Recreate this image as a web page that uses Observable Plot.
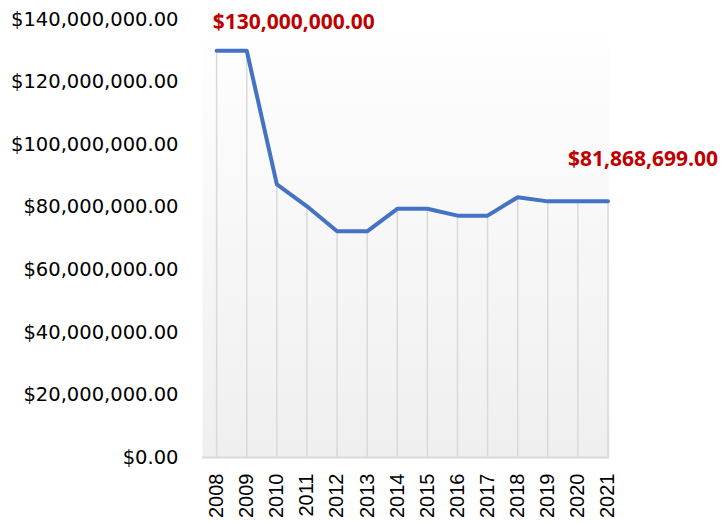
<!DOCTYPE html>
<html>
<head>
<meta charset="utf-8">
<script src="https://cdn.jsdelivr.net/npm/d3@7"></script>
<script src="https://cdn.jsdelivr.net/npm/@observablehq/plot@0.6"></script>
<style>
  html, body { margin: 0; padding: 0; background: #ffffff; }
  #chart svg { display: block; }
</style>
</head>
<body>
<div id="chart"></div>
<script>
const years = [2008, 2009, 2010, 2011, 2012, 2013, 2014, 2015, 2016, 2017, 2018, 2019, 2020, 2021];
const values = [130000000, 130000000, 87300000, 80300000, 72300000, 72300000, 79500000, 79500000, 77300000, 77300000, 83200000, 81868699, 81868699, 81868699];
const yTicks = [0, 20000000, 40000000, 60000000, 80000000, 100000000, 120000000, 140000000];
const labelYears = [2008, 2021];
const labelValues = [130000000, 81868699];
const labelTexts = ["$130,000,000.00", "$81,868,699.00"];

const data = years.map((year, i) => ({year, value: values[i]}));
const labels = labelYears.map((year, i) => ({year, value: labelValues[i], text: labelTexts[i]}));

const money = d => "$" + d3.format(",.2f")(d);

const defsMark = () => {
  const defs = d3.create("svg:defs");
  const g = defs.append("linearGradient").attr("id", "bgGrad")
    .attr("x1", 0).attr("y1", 0).attr("x2", 0).attr("y2", 1);
  g.append("stop").attr("offset", "0%").attr("stop-color", "#ffffff");
  g.append("stop").attr("offset", "100%").attr("stop-color", "#efefef");
  return defs.node();
};

const chart = Plot.plot({
  width: 722,
  height: 523,
  marginLeft: 202,
  marginRight: 113,
  marginTop: 19,
  marginBottom: 66,
  style: {fontFamily: "DejaVu Sans", fontSize: "19px", color: "#000000", background: "#ffffff"},
  x: {type: "linear", domain: [2007.53, 2021.05]},
  y: {domain: [0, 140000000]},
  marks: [
    defsMark,
    Plot.frame({fill: "url(#bgGrad)", stroke: null}),
    Plot.ruleX(data, {x: "year", y1: 0, y2: "value", stroke: "#d9d9d9", strokeWidth: 1.5}),
    Plot.ruleY([0], {stroke: "#d9d9d9", strokeWidth: 2}),
    Plot.axisY({ticks: yTicks, tickFormat: money, tickSize: 0, tickPadding: 24, fontSize: 19.5, label: null}),
    Plot.axisX({ticks: years, tickFormat: d => String(d), tickSize: 0, tickPadding: 16, tickRotate: -90, fontSize: 20, fontFamily: "Liberation Sans", label: null}),
    Plot.line(data, {x: "year", y: "value", stroke: "#4472C4", strokeWidth: 4}),
    Plot.text(labels.slice(0, 1), {x: "year", y: "value", text: "text", textAnchor: "start", dx: -4, dy: -29, fill: "#C00000", fontWeight: "bold", fontSize: 21, fontFamily: "Open Sans"}),
    Plot.text(labels.slice(1), {x: "year", y: "value", text: "text", textAnchor: "end", dx: 110, dy: -42, fill: "#C00000", fontWeight: "bold", fontSize: 21, fontFamily: "Open Sans"})
  ]
});
document.getElementById("chart").appendChild(chart);
</script>
</body>
</html>
